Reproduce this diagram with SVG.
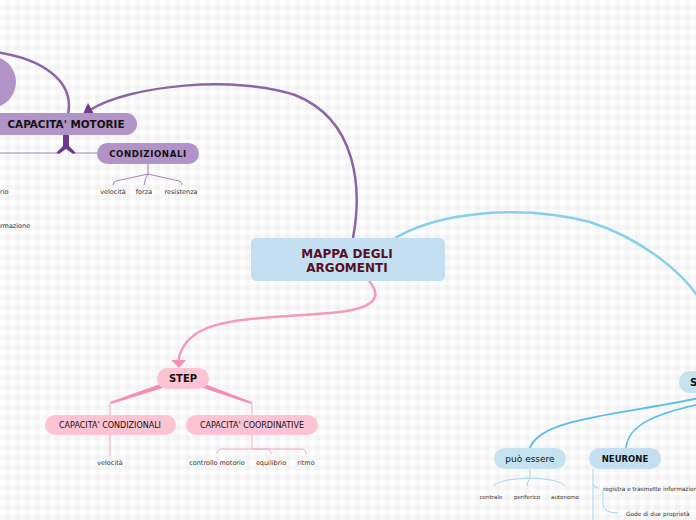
<svg xmlns="http://www.w3.org/2000/svg" width="696" height="520" viewBox="0 0 696 520">
<defs>
<pattern id="bg" width="10" height="10" patternUnits="userSpaceOnUse">
<rect width="10" height="10" fill="#f2f2f2"/>
<rect x="0" y="0" width="10" height="5" fill="#f8f8f8"/>
<rect x="0" y="0" width="5" height="10" fill="#f8f8f8"/>
<rect x="0" y="0" width="5" height="5" fill="#fdfdfd"/>
</pattern>
<style>
text{font-family:"DejaVu Sans",Verdana,sans-serif;text-anchor:middle;fill:#111}
.b{font-weight:bold}
.leaf{font-size:6.5px;fill:#333}
.pu{fill:#b293c8}
.pk{fill:#fcc3d2}
.bl{fill:#c4e3ef}
.thinp{fill:none;stroke:#a582bd;stroke-width:1}
.thinpk{fill:none;stroke:#f6a7c1;stroke-width:1}
.thinb{fill:none;stroke:#9fd6ee;stroke-width:1}
</style>
</defs>
<rect width="696" height="520" fill="url(#bg)"/>

<g id="connectors">
<path d="M353 238 C362 190,358 120,295 95 C235 75,130 85,90 110" fill="none" stroke="#8a66a6" stroke-width="2.5"/>
<polygon points="88,103 83,114 94,114" fill="#6b3a8a"/>
<path d="M-5 52 C40 58,75 80,68 114" fill="none" stroke="#8a66a6" stroke-width="2.5"/>
<path d="M63 135 L69 135 L69 146 L76 153 L73 154 L66 149 L59 154 L56 153 L63 146 Z" fill="#6b3a8a"/>
<path d="M0 153 L57 153 M75 153 L97 153" class="thinp" stroke-width="1.2"/>
<path d="M148 164 L148 174 M148 174 L116 181 Q113 182 113 185 M148 174 Q145 178 144 185 M148 174 L179 181 Q182 182 182 185" class="thinp"/>
<path d="M369 281 C382 296,378 309,330 313 C250 320,185 315,178 362" fill="none" stroke="#f29bbb" stroke-width="2.5"/>
<polygon points="171,360 186,360 179,368" fill="#f48fb1"/>
<path d="M163 383 L110 402 L111 404 L166 387 Z" fill="#f48fb1"/>
<path d="M202 383 L252 402 L251 404 L200 387 Z" fill="#f48fb1"/>
<path d="M110 403 L110 415 M252 403 L252 415" class="thinpk"/>
<path d="M110 435 L110 456" class="thinpk"/>
<path d="M252 435 L252 449 M252 449 L222 449 Q217 449 217 454 M252 449 L267 449 Q271 449 271 454 M252 449 L301 449 Q306 449 306 454" class="thinpk"/>
<path d="M395 238 C440 212,520 204,590 222 C645 240,685 275,700 300" fill="none" stroke="#86cfec" stroke-width="2.5"/>
<path d="M700 398 C620 415,540 418,530 448" fill="none" stroke="#5bbde8" stroke-width="2"/>
<path d="M700 404 C655 414,628 425,626 448" fill="none" stroke="#5bbde8" stroke-width="1.6"/>
<path d="M530 469 L530 478 M530 478 Q500 479 493 486 M530 478 Q527 482 527 486 M530 478 Q560 479 565 486" class="thinb"/>
<path d="M593 469 L593 520 M593 484 Q594 488 598 488 M603 490 L603 505 Q604 513 618 513" class="thinb"/>
</g>

<g id="n-circle"><circle cx="-10" cy="82" r="26" class="pu"/></g>

<g id="n-center">
<rect x="251" y="238" width="194" height="43" rx="5" fill="#c4dff2"/>
<text x="347" y="258" class="b" font-size="12" style="fill:#5a0f24">MAPPA DEGLI</text>
<text x="347" y="272" class="b" font-size="12" style="fill:#5a0f24">ARGOMENTI</text>
</g>

<g id="n-motorie">
<rect x="-10" y="113" width="147" height="22" rx="11" class="pu"/>
<text x="66" y="128" class="b" font-size="10.4">CAPACITA' MOTORIE</text>
</g>

<g id="n-condizionali">
<rect x="97" y="143" width="102" height="21" rx="10.5" class="pu"/>
<text x="148" y="157" class="b" font-size="8.6" letter-spacing="0.6">CONDIZIONALI</text>
</g>
<g id="l-cond">
<text x="113" y="194" class="leaf">velocità</text>
<text x="144" y="194" class="leaf">forza</text>
<text x="181" y="194" class="leaf">resistenza</text>
<text x="0" y="194" class="leaf" style="text-anchor:start">rio</text>
<text x="0" y="228" class="leaf" style="text-anchor:start">rmazione</text>
</g>

<g id="n-step">
<rect x="157" y="368" width="52" height="21" rx="10.5" class="pk"/>
<text x="183" y="382" class="b" font-size="10">STEP</text>
</g>
<g id="n-capcond">
<rect x="45" y="415" width="131" height="20" rx="10" class="pk"/>
<text x="110" y="428" font-size="8">CAPACITA' CONDIZIONALI</text>
</g>
<g id="n-capcoord">
<rect x="186" y="415" width="132" height="20" rx="10" class="pk"/>
<text x="252" y="428" font-size="8">CAPACITA' COORDINATIVE</text>
</g>
<g id="l-step">
<text x="110" y="465" class="leaf">velocità</text>
<text x="217" y="465" class="leaf">controllo motorio</text>
<text x="271" y="465" class="leaf">equilibrio</text>
<text x="306" y="465" class="leaf">ritmo</text>
</g>

<g id="n-s">
<rect x="679" y="371" width="40" height="22" rx="11" class="bl"/>
<text x="690" y="386" class="b" font-size="10" style="text-anchor:start">S</text>
</g>
<g id="n-puo">
<rect x="494" y="448" width="72" height="21" rx="10.5" class="bl"/>
<text x="530" y="462" font-size="9">può essere</text>
</g>
<g id="n-neurone">
<rect x="589" y="448" width="72" height="21" rx="10.5" fill="#c4dff2"/>
<text x="625" y="462" class="b" font-size="8.5">NEURONE</text>
</g>
<g id="l-blue">
<text x="491" y="499" class="leaf" style="font-size:5.5px">centrale</text>
<text x="527" y="499" class="leaf" style="font-size:5.5px">periferico</text>
<text x="565" y="499" class="leaf" style="font-size:5.5px">autonomo</text>
<text x="603" y="491" class="leaf" style="font-size:5.8px;text-anchor:start">registra e trasmette informazioni</text>
<text x="626" y="516" class="leaf" style="font-size:5.8px;text-anchor:start">Gode di due proprietà</text>
</g>
</svg>
